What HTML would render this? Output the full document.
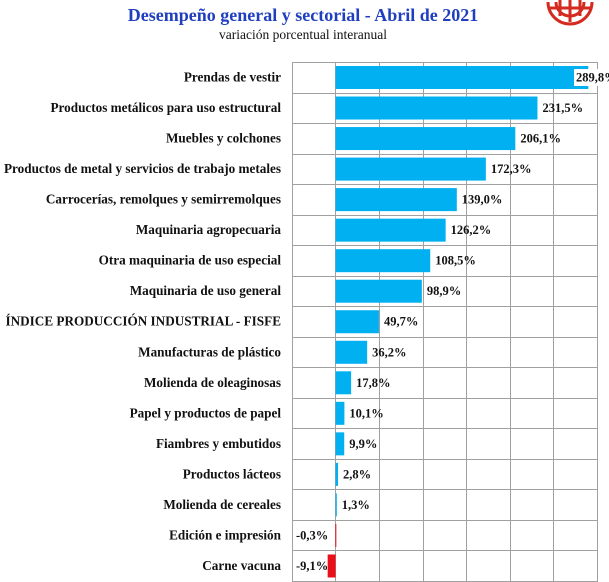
<!DOCTYPE html>
<html><head><meta charset="utf-8"><style>
body{margin:0;background:#fff;width:609px;height:582px;overflow:hidden}
svg{display:block}
</style></head><body>
<svg width="609" height="582" xmlns="http://www.w3.org/2000/svg" font-family="Liberation Serif, serif">
<text x="303" y="21" text-anchor="middle" font-size="18" font-weight="bold" fill="#1f3fbf">Desempeño general y sectorial - Abril de 2021</text>
<text x="303" y="39" text-anchor="middle" font-size="13.5" fill="#111">variación porcentual interanual</text>
<g stroke="#d42a1f" stroke-width="3" fill="none">
<path d="M548 2 A22 22 0 0 0 592 2"/>
<path d="M556 2 A14 14 0 0 0 584 2"/>
<line x1="570" y1="0" x2="570" y2="22"/>
<line x1="560" y1="0" x2="560" y2="16"/><line x1="580" y1="0" x2="580" y2="16"/>
<line x1="550" y1="8" x2="590" y2="8"/>
</g>
<g stroke="#a0a0a0" stroke-width="1">
<rect x="292.5" y="62.5" width="305" height="519" fill="none"/>
<line x1="335.5" y1="62" x2="335.5" y2="581"/>
<line x1="379.5" y1="62" x2="379.5" y2="581"/>
<line x1="423.5" y1="62" x2="423.5" y2="581"/>
<line x1="466.5" y1="62" x2="466.5" y2="581"/>
<line x1="510.5" y1="62" x2="510.5" y2="581"/>
<line x1="553.5" y1="62" x2="553.5" y2="581"/>
<g id="h"></g>
</g>
<g id="rows"></g>
<script>
var d=[["Prendas de vestir",289.8],["Productos metálicos para uso estructural",231.5],["Muebles y colchones",206.1],["Productos de metal y servicios de trabajo metales",172.3],["Carrocerías, remolques y semirremolques",139.0],["Maquinaria agropecuaria",126.2],["Otra maquinaria de uso especial",108.5],["Maquinaria de uso general",98.9],["ÍNDICE PRODUCCIÓN INDUSTRIAL - FISFE",49.7],["Manufacturas de plástico",36.2],["Molienda de oleaginosas",17.8],["Papel y productos de papel",10.1],["Fiambres y embutidos",9.9],["Productos lácteos",2.8],["Molienda de cereales",1.3],["Edición e impresión",-0.3],["Carne vacuna",-9.1]];
var ns="http://www.w3.org/2000/svg",g=document.getElementById("rows"),h=document.getElementById("h");
function el(t,a,p,txt){var e=document.createElementNS(ns,t);for(var k in a)e.setAttribute(k,a[k]);if(txt)e.textContent=txt;(p||g).appendChild(e);return e;}
var z=335.6,s=0.872,rh=30.53;
d.forEach(function(r,i){var y=62+i*rh;
if(i>0)el("line",{x1:292,x2:597,y1:Math.round(y)+.5,y2:Math.round(y)+.5},h);
el("text",{x:281,y:y+19.5,"text-anchor":"end","font-size":13.2,"font-weight":"bold",fill:"#111"},g,r[0]);
var v=r[1],w=Math.abs(v)*s,neg=v<0;
var lab=(v.toFixed(1)).replace(".",",")+"%";
if(neg){el("rect",{x:z-w,y:y+4,width:Math.max(w,1),height:23,fill:"#e8101a"});
el("text",{x:296,y:y+19.5,"font-size":12.5,"font-weight":"bold",fill:"#111"},g,lab);}
else{el("rect",{x:z,y:y+4,width:Math.max(w,1.2),height:23,fill:"#00b0f0"});
var lx=i==0?574:z+w+3;
if(i==0)el("rect",{x:lx,y:y+7,width:42,height:17,fill:"#fff"});
el("text",{x:lx+2,y:y+19.5,"font-size":12.5,"font-weight":"bold",fill:"#111"},g,lab);}
});
</script>
</svg>
</body></html>
